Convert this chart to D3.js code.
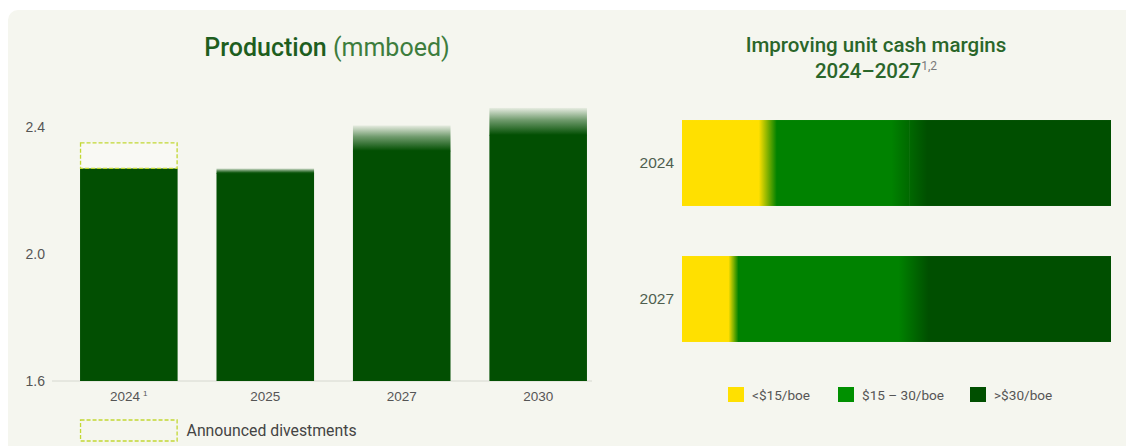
<!DOCTYPE html>
<html>
<head>
<meta charset="utf-8">
<script src="https://cdn.jsdelivr.net/npm/d3@7"></script>
<style>
  html, body { margin: 0; padding: 0; background: #ffffff; }
  svg { display: block; font-family: Roboto, "Liberation Sans", Arial, sans-serif; }
</style>
</head>
<body>
<svg id="chart" width="1126" height="446"></svg>
<script>
// Production outlook (mmboed)
const prodYears = ["2024", "2025", "2027", "2030"];
const prodBase = [2.27, 2.255, 2.325, 2.375];      // solid part of each bar
const prodTop = [2.27, 2.27, 2.405, 2.46];         // upper end of the faded range
const prodDivest = [0.08, 0, 0, 0];                // announced divestments on top
const prodTicks = [1.6, 2.0, 2.4];

// Unit cash margin mix (% of production)
const marginYears = ["2024", "2027"];
const marginLow = [20, 12];    // <$15/boe
const marginMid = [33, 42];    // $15 – 30/boe
const marginHigh = [47, 46];   // >$30/boe
const marginLabels = ["<$15/boe", "$15 – 30/boe", ">$30/boe"];

const C = {
  panel: "#f5f6ef",
  bar: "#024f02",
  yellow: "#ffe000",
  green: "#008200",
  dark: "#004f00",
  dash: "#c2d833",
  axisText: "#555555",
  titleDark: "#1e5e1e",
  titleLight: "#3d7d3d"
};

const svg = d3.select("#chart");
const defs = svg.append("defs");

// light background panel
svg.append("rect")
  .attr("x", 8).attr("y", 10)
  .attr("width", 1130).attr("height", 450)
  .attr("rx", 10)
  .attr("fill", C.panel);

/* ---------------- Production bars ---------------- */
const left = svg.append("g");

const title = left.append("text")
  .attr("x", 327).attr("y", 56)
  .attr("text-anchor", "middle")
  .attr("font-size", 25);
title.append("tspan").attr("fill", C.titleDark).attr("font-weight", 500).text("Production");
title.append("tspan").attr("fill", C.titleLight).text(" (mmboed)");

const x = d3.scaleBand()
  .domain(prodYears)
  .range([60.6, 606.4])
  .paddingInner(0.285)
  .paddingOuter(0.1425);

const y = d3.scaleLinear().domain([1.6, 2.4]).range([381, 127]);

// y axis labels
const yAxis = left.append("g")
  .attr("transform", "translate(47,0)")
  .call(d3.axisLeft(y).tickValues(prodTicks).tickSize(0).tickPadding(2).tickFormat(d3.format(".1f")));
yAxis.select(".domain").remove();
yAxis.selectAll("text").attr("fill", C.axisText).attr("font-size", 14).attr("font-family", null);

// baseline
left.append("line")
  .attr("x1", 52).attr("x2", 592)
  .attr("y1", y(1.6)).attr("y2", y(1.6))
  .attr("stroke", "#d6d8d0").attr("stroke-width", 1);

// faded-top gradients, one per bar
const prodData = prodYears.map((yr, i) => ({
  year: yr, base: prodBase[i], top: prodTop[i], divest: prodDivest[i], i
}));

prodData.forEach(d => {
  if (d.top > d.base) {
    const g = defs.append("linearGradient")
      .attr("id", "fade" + d.i)
      .attr("gradientUnits", "userSpaceOnUse")
      .attr("x1", 0).attr("x2", 0)
      .attr("y1", y(d.top)).attr("y2", y(d.base));
    g.append("stop").attr("offset", 0).attr("stop-color", C.bar).attr("stop-opacity", 0.06);
    g.append("stop").attr("offset", 0.45).attr("stop-color", C.bar).attr("stop-opacity", 0.55);
    g.append("stop").attr("offset", 1).attr("stop-color", C.bar).attr("stop-opacity", 1);
  }
});

left.append("g").selectAll("rect.bar")
  .data(prodData)
  .join("rect")
  .attr("class", "bar")
  .attr("x", d => x(d.year))
  .attr("width", x.bandwidth())
  .attr("y", d => y(d.base))
  .attr("height", d => y(1.6) - y(d.base))
  .attr("fill", C.bar);

left.append("g").selectAll("rect.fade")
  .data(prodData.filter(d => d.top > d.base))
  .join("rect")
  .attr("class", "fade")
  .attr("x", d => x(d.year))
  .attr("width", x.bandwidth())
  .attr("y", d => y(d.top))
  .attr("height", d => y(d.base) - y(d.top) + 0.5)
  .attr("fill", d => `url(#fade${d.i})`);

// announced divestments outline
left.append("g").selectAll("rect.divest")
  .data(prodData.filter(d => d.divest > 0))
  .join("rect")
  .attr("class", "divest")
  .attr("x", d => x(d.year) + 0.5)
  .attr("width", x.bandwidth() - 1)
  .attr("y", d => y(d.base + d.divest))
  .attr("height", d => y(d.base) - y(d.base + d.divest))
  .attr("fill", "#f9f9f4")
  .attr("stroke", C.dash)
  .attr("stroke-width", 1.3)
  .attr("stroke-dasharray", "4,2");

// x axis labels
const xAxis = left.append("g")
  .attr("transform", `translate(0,${y(1.6)})`)
  .call(d3.axisBottom(x).tickSize(0).tickPadding(10));
xAxis.select(".domain").remove();
xAxis.selectAll("text").attr("fill", C.axisText).attr("font-size", 13.5).attr("font-family", null);
xAxis.selectAll(".tick text").filter(d => d === "2024")
  .append("tspan").attr("dx", 3).attr("dy", -5).attr("font-size", 8).text("1");

// divestment legend
const legL = left.append("g");
legL.append("rect")
  .attr("x", x("2024") + 0.5).attr("y", 420)
  .attr("width", x.bandwidth() - 1).attr("height", 21)
  .attr("fill", "none")
  .attr("stroke", C.dash)
  .attr("stroke-width", 1.3)
  .attr("stroke-dasharray", "4,2");
legL.append("text")
  .attr("x", x("2024") + x.bandwidth() + 9).attr("y", 436)
  .attr("font-size", 15.8).attr("fill", "#444")
  .text("Announced divestments");

/* ---------------- Unit cash margin bars ---------------- */
const right = svg.append("g");

const t2 = right.append("text")
  .attr("text-anchor", "middle")
  .attr("font-size", 20.5)
  .attr("font-weight", 500)
  .attr("fill", "#2a662a");
t2.append("tspan").attr("x", 876).attr("y", 52).text("Improving unit cash margins");
t2.append("tspan").attr("x", 876).attr("y", 78).text("2024\u20132027");
t2.append("tspan").attr("dy", -8).attr("font-size", 12).attr("font-weight", 400).attr("fill", "#7a7a7a").text("1,2");

const mx = d3.scaleLinear().domain([0, 100]).range([682, 1111]);
const my = d3.scaleBand()
  .domain(marginYears)
  .range([95, 367])
  .paddingInner(0.368)
  .paddingOuter(0.184);

const marginData = marginYears.map((yr, i) => {
  const vals = [marginLow[i], marginMid[i], marginHigh[i]];
  let acc = 0;
  const segs = vals.map((v, k) => {
    const s = { year: yr, row: i, k, x0: acc, x1: acc + v };
    acc += v;
    return s;
  });
  return { year: yr, i, segs };
});

// soft blends between neighbouring margin bands
const blendLow = [9, 5];
const blendHigh = [18, 15];
marginData.forEach(d => {
  const b1 = mx(d.segs[0].x1), b2 = mx(d.segs[1].x1);
  const x0 = mx(0), x1 = mx(100), w = x1 - x0;
  const g = defs.append("linearGradient")
    .attr("id", "mix" + d.i)
    .attr("gradientUnits", "userSpaceOnUse")
    .attr("x1", x0).attr("x2", x1).attr("y1", 0).attr("y2", 0);
  const stops = [
    [0, C.yellow],
    [(b1 - blendLow[d.i] - x0) / w, C.yellow],
    [(b1 + blendLow[d.i] - x0) / w, C.green],
    [(b2 - blendHigh[d.i] - x0) / w, C.green],
    [(b2 + blendHigh[d.i] - x0) / w, C.dark],
    [1, C.dark]
  ];
  stops.forEach(([o, c]) => g.append("stop").attr("offset", o).attr("stop-color", c));
});

right.append("g").selectAll("g.row")
  .data(marginData)
  .join("g")
  .attr("class", "row")
  .selectAll("rect")
  .data(d => d.segs)
  .join("rect")
  .attr("x", s => mx(s.x0))
  .attr("width", s => mx(s.x1) - mx(s.x0) + (s.k < 2 ? 0.5 : 0))
  .attr("y", s => my(s.year))
  .attr("height", my.bandwidth())
  .attr("fill", s => `url(#mix${s.row})`);

const myAxis = right.append("g")
  .attr("transform", "translate(674,0)")
  .call(d3.axisLeft(my).tickSize(0).tickPadding(0));
myAxis.select(".domain").remove();
myAxis.selectAll("text").attr("fill", "#4f5f4f").attr("font-size", 15.5).attr("font-family", null);

// margin legend
const legColors = [C.yellow, "#009000", C.dark];
const legX = [728, 838, 970];
const legR = right.append("g").selectAll("g")
  .data(marginLabels)
  .join("g")
  .attr("transform", (d, i) => `translate(${legX[i]},387)`);
legR.append("rect")
  .attr("width", 16).attr("height", 15)
  .attr("fill", (d, i) => legColors[i]);
legR.append("text")
  .attr("x", 24).attr("y", 12.5)
  .attr("font-size", 13.6).attr("fill", C.axisText)
  .text(d => d);
</script>
</body>
</html>
